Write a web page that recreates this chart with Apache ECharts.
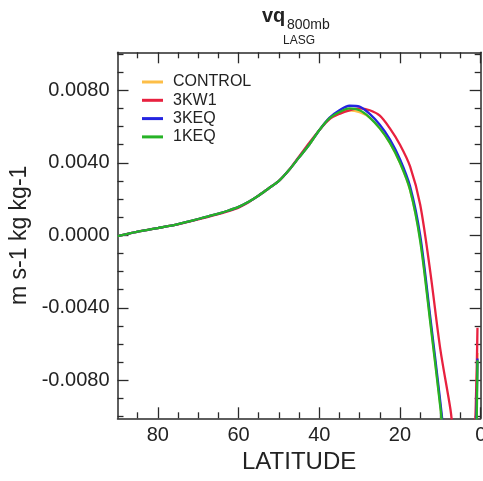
<!DOCTYPE html>
<html>
<head>
<meta charset="utf-8">
<script src="https://cdn.jsdelivr.net/npm/echarts@6/dist/echarts.min.js"></script>
<style>html,body{margin:0;padding:0;background:#fff}#c{width:483px;height:481px}</style>
</head>
<body>
<div id="c"></div>
<script>
// ---- data ----
const lats = [90,87.5,85,82.5,80,77.5,75,72.5,70,67.5,65,62.5,60,57.5,55,52.5,50,47.5,45,42.5,40,37.5,
              35,32.5,30,27.5,25,22.5,20,17.5,15,12.5,10,7.5,5,2.5,0.8];
const control = [-0.00005,0.00008,0.0002,0.0003,0.0004,0.0005,0.00062,0.00076,0.0009,0.00105,0.0012,0.00137,0.00157,0.00185,0.0022,0.0026,0.0030,0.0036,0.0043,0.0050,0.0058,0.00645,
                 0.0068,0.0069,0.0068,0.0065,0.0059,0.0051,0.0040,0.0025,-0.0002,-0.0047,-0.0094,-0.0145,-0.018,-0.017,-0.0065];
const kw1 = [-0.00005,0.00008,0.0002,0.0003,0.0004,0.0005,0.0006,0.00074,0.00088,0.00102,0.00117,0.00133,0.00153,0.00182,0.0022,0.0026,0.0030,0.0036,0.00435,0.0051,0.0058,0.0064,
             0.0067,0.0069,0.0070,0.0069,0.0066,0.0059,0.0050,0.0038,0.0017,-0.0020,-0.0063,-0.0096,-0.0135,-0.0135,-0.0051];
const keq3 = [-0.00005,0.00008,0.0002,0.0003,0.0004,0.0005,0.00062,0.00076,0.0009,0.00105,0.0012,0.00137,0.00157,0.00185,0.0022,0.0026,0.0030,0.0036,0.0043,0.0050,0.0058,0.00648,
              0.0069,0.00715,0.0071,0.0067,0.0061,0.0053,0.0042,0.0027,0.0000,-0.0045,-0.0092,-0.0143,-0.018,-0.0175,-0.0068];
const keq1 = [-0.00005,0.00008,0.0002,0.0003,0.0004,0.0005,0.00062,0.00076,0.0009,0.00105,0.0012,0.00137,0.00157,0.00185,0.0022,0.0026,0.0030,0.0036,0.0043,0.0050,0.0058,0.00645,
              0.0068,0.0070,0.0069,0.0065,0.0059,0.0051,0.0040,0.0025,-0.0003,-0.0048,-0.0095,-0.0146,-0.018,-0.018,-0.0069];
const seriesNames = ['CONTROL','3KW1','3KEQ','1KEQ'];
const xTickLabels = [80,60,40,20,0];
const xMinorTicks = [85,75,70,65,55,50,45,35,30,25,15,10,5];
const yTickLabels = [0.008,0.004,0,-0.004,-0.008];
const yMinorTicks = [0.010,0.009,0.007,0.006,0.005,0.003,0.002,0.001,-0.001,-0.002,-0.003,-0.005,-0.006,-0.007,-0.009,-0.010];

// ---- chart ----
const colors = ['#FDBE47','#E8213F','#2424E0','#26B326'];
const FONT = 'Liberation Sans, Arial, Helvetica, sans-serif';
const lineC = '#2a2a2a';
function pair(arr){ return lats.map((l,i)=>[l,arr[i]]); }

function xAx(pos, major, showLine, showLabel){
  return {
    type:'value', min:0, max:90, inverse:true, position:pos,
    axisLine:{show:showLine, onZero:false, lineStyle:{color:lineC,width:1.5}},
    axisTick:{show:true, inside:true, length: major?11:6, customValues: major?xTickLabels:xMinorTicks, lineStyle:{color:lineC,width:1.3}},
    axisLabel:{show:showLabel, customValues:xTickLabels, margin:7, color:'#222', fontSize:20, fontFamily:FONT},
    splitLine:{show:false},
    name: showLabel ? 'LATITUDE' : '', nameLocation:'middle', nameGap:32,
    nameTextStyle:{fontSize:24, color:'#222', fontFamily:FONT}
  };
}
function yAx(pos, major, showLine, showLabel){
  return {
    type:'value', min:-0.0101, max:0.0101, position:pos,
    axisLine:{show:showLine, onZero:false, lineStyle:{color:lineC,width:1.5}},
    axisTick:{show:true, inside:true, length: major?11:6, customValues: major?yTickLabels:yMinorTicks, lineStyle:{color:lineC,width:1.3}},
    axisLabel:{show:showLabel, customValues:yTickLabels, margin:8, color:'#222', fontSize:20, fontFamily:FONT,
               formatter: v => v.toFixed(4)},
    splitLine:{show:false},
    name: showLabel ? 'm s-1 kg kg-1' : '', nameLocation:'middle', nameGap:81,
    nameTextStyle:{fontSize:23, color:'#222', fontFamily:FONT}
  };
}

const chart = echarts.init(document.getElementById('c'), null, {renderer:'canvas'});
const datasets = [control, kw1, keq3, keq1];
chart.setOption({
  animation:false,
  backgroundColor:'#fff',
  grid:{left:117.5, right:2.3, top:52.3, bottom:62.7, containLabel:false, outerBoundsMode:'none'},
  xAxis:[xAx('bottom',true,true,true), xAx('bottom',false,false,false), xAx('top',true,true,false), xAx('top',false,false,false)],
  yAxis:[yAx('left',true,true,true), yAx('left',false,false,false), yAx('right',true,true,false), yAx('right',false,false,false)],
  legend:{
    orient:'vertical', left:137, top:69, icon:'rect', itemWidth:21, itemHeight:3, itemGap:2.3,
    data: seriesNames,
    textStyle:{fontSize:16, color:'#222', fontFamily:FONT, padding:[0,0,0,5], lineHeight:16}
  },
  graphic:[
    {type:'text', left:262, top:6, style:{text:'vq', font:'bold 20px '+FONT, fill:'#222'}},
    {type:'text', left:287, top:18, style:{text:'800mb', font:'14px '+FONT, fill:'#222'}},
    {type:'text', left:283, top:35, style:{text:'LASG', font:'12px '+FONT, fill:'#222'}}
  ],
  series: datasets.map((d,i)=>({
    name: seriesNames[i], type:'line', data: pair(d), xAxisIndex:0, yAxisIndex:0,
    symbol:'none', smooth:0.3, color: colors[i], z: 2+i,
    lineStyle:{width:2.3, color: colors[i]}
  }))
});
</script>
</body>
</html>
